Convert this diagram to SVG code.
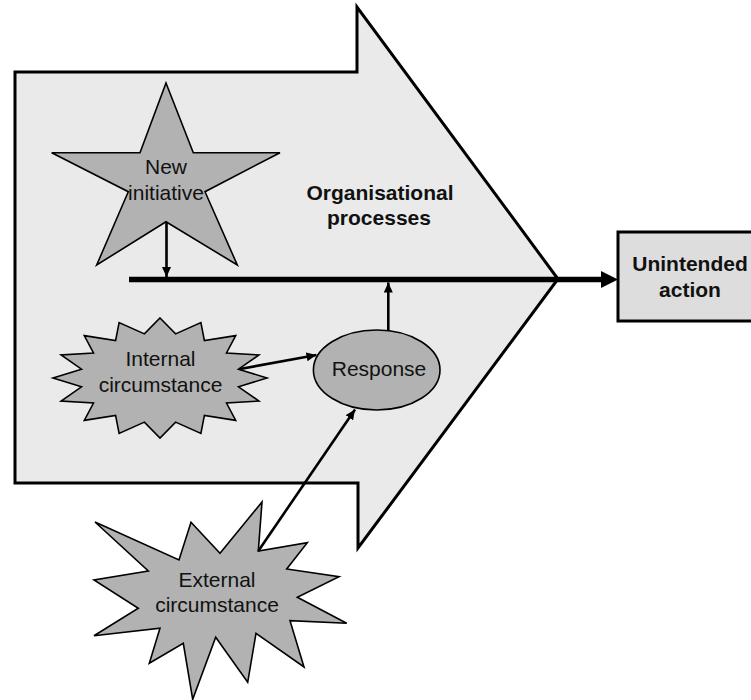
<svg xmlns="http://www.w3.org/2000/svg" width="751" height="700" viewBox="0 0 751 700">
<style>
  .lbl { font-family: "Liberation Sans", Arial, sans-serif; font-size: 21px; fill: #111; text-anchor: middle; }
  .bold { font-weight: bold; }
  .shape { fill: #b2b2b2; stroke: #000; stroke-width: 1.6; stroke-linejoin: miter; }
  .conn { stroke: #000; stroke-width: 2.6; fill: none; }
</style>
<defs>
  <marker id="ah" markerUnits="userSpaceOnUse" markerWidth="11" markerHeight="9" refX="10" refY="4.5" orient="auto">
    <path d="M0,0 L10,4.5 L0,9 z" fill="#000"/>
  </marker>
</defs>
<rect width="751" height="700" fill="#fff"/>

<g id="organisational-processes">
  <polygon points="15,72 357,72 357,7 558,279 358,548 358,483 15,483" fill="#eaeaea" stroke="#000" stroke-width="3" stroke-linejoin="miter"/>
  <text class="lbl bold" x="380" y="200">Organisational</text>
  <text class="lbl bold" x="379" y="225">processes</text>
</g>

<g id="unintended-action">
  <rect x="618" y="232" width="150" height="89" fill="#dddddd" stroke="#000" stroke-width="3"/>
  <text class="lbl bold" x="690" y="270.5">Unintended</text>
  <text class="lbl bold" x="690" y="296.5">action</text>
</g>

<g id="new-initiative">
  <polygon class="shape" points="166,83 193.3,152.7 280,152.7 205,191.7 237.3,265 166,221.7 96.7,265 128.3,191.7 51.7,152.7 140,152.7"/>
  <text class="lbl" x="166" y="174">New</text>
  <text class="lbl" x="166" y="200">initiative</text>
</g>

<g id="internal-circumstance">
  <polygon class="shape" points="160,318 175.6,333.9 200.9,322.6 204.4,340.6 235.7,335.6 226.5,353 258.9,355 238.5,369.2 267,378 238.5,386.8 258.9,401 226.5,403 235.7,420.4 204.4,415.4 200.9,433.4 175.6,422.1 160,438 144.4,422.1 119.1,433.4 115.6,415.4 84.3,420.4 93.5,403 61.1,401 81.5,386.8 53,378 81.5,369.2 61.1,355 93.5,353 84.3,335.6 115.6,340.6 119.1,322.6 144.4,333.9"/>
  <text class="lbl" x="160.5" y="366">Internal</text>
  <text class="lbl" x="160.5" y="392">circumstance</text>
</g>

<g id="external-circumstance">
  <polygon class="shape" points="95,522 179,560 191,522.3 220,553.3 262,502 258.3,551 307.3,542.7 286.7,569 339,576.7 297.3,597.3 346.7,623.3 290,620.7 304,667 256,633.3 247.7,682.3 215.7,637.3 192.7,699.3 183.3,643.3 149.3,663.3 160,628.3 94,635.7 138.3,608.3 94,580 148.3,571"/>
  <text class="lbl" x="217" y="587">External</text>
  <text class="lbl" x="217" y="612">circumstance</text>
</g>

<g id="response">
  <ellipse cx="376.7" cy="370" rx="63.3" ry="40" class="shape"/>
  <text class="lbl" x="379" y="375.5">Response</text>
</g>

<g id="connectors">
  <line x1="129" y1="279.5" x2="603" y2="279.5" stroke="#000" stroke-width="5.5"/>
  <polygon points="601,271 618,279.5 601,288" fill="#000"/>
  <line class="conn" x1="166.5" y1="222" x2="166.5" y2="277" marker-end="url(#ah)"/>
  <line class="conn" x1="388.3" y1="330" x2="388.3" y2="282.5" marker-end="url(#ah)"/>
  <line class="conn" x1="240" y1="369" x2="316.5" y2="355" marker-end="url(#ah)"/>
  <line class="conn" x1="258.3" y1="551" x2="355" y2="409.5" marker-end="url(#ah)"/>
</g>
</svg>
